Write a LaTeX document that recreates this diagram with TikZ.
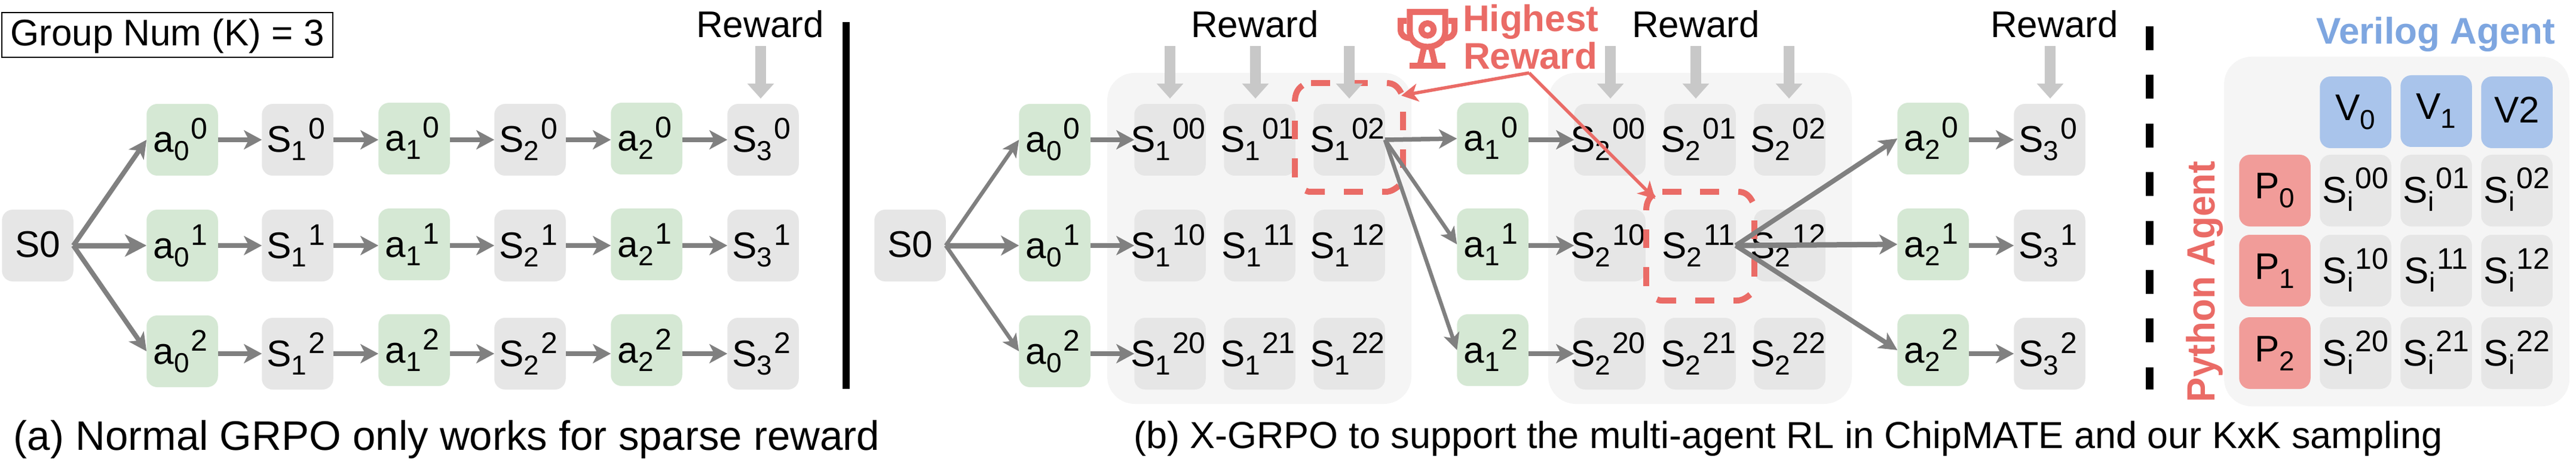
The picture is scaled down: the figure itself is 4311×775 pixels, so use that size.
\documentclass[tikz,border=0pt]{standalone}
\usepackage{fontspec}
\setmainfont{Liberation Sans}
\usetikzlibrary{arrows.meta,calc}
\definecolor{cgray}{HTML}{E6E6E6}
\definecolor{cgreen}{HTML}{D5E8D4}
\definecolor{cblue}{HTML}{A9C4EB}
\definecolor{cred}{HTML}{F19C99}
\definecolor{cpanel}{HTML}{F5F5F5}
\definecolor{chl}{HTML}{EA6B66}
\definecolor{cver}{HTML}{7EA6E0}
\definecolor{carrow}{HTML}{808080}
\definecolor{creward}{HTML}{C8C8C8}
\newcommand{\fsz}[1]{\fontsize{#1}{#1}\selectfont}
% base, sub, sup; shifted slightly left like the original
\newcommand{\lab}[3]{\makebox[0pt][c]{\raisebox{-21pt}[0pt][0pt]{\fsz{62}#1\raisebox{-14pt}{\fsz{46}#2}\hspace{3pt}\raisebox{22pt}{\fsz{50}#3}}\kern6pt}}
\newcommand{\labi}[3]{\makebox[0pt][c]{\raisebox{-21pt}[0pt][0pt]{\fsz{62}#1\raisebox{-14pt}{\fsz{46}#2}\hspace{3pt}\raisebox{24pt}{\fsz{50}#3}}}}
\newcommand{\labs}[2]{\makebox[0pt][c]{\raisebox{-14pt}[0pt][0pt]{\fsz{62}#1\raisebox{-15pt}{\fsz{46}#2}}}}
\newcommand{\plain}[2]{\makebox[0pt][c]{\raisebox{-#1pt}[0pt][0pt]{\fsz{62}#2}}}
% dashed highlight frame, every dash placed as in the original
\newcommand{\hlframe}[2]{%
  \begin{scope}[shift={(#1,#2)},hldash]
    \draw (0,31) .. controls (0,18) and (5,9) .. (13,4);
    \draw (27,0) -- (59,0);
    \draw (90,0) -- (122,0);
    \draw (154,0) .. controls (166,0) and (173,7) .. (178,17);
    \draw (180.5,48) -- (180.5,79);
    \draw (180.5,111) -- (180.5,142);
    \draw (146,182) -- (152,182) .. controls (160,182) and (167,178) .. (174,172);
    \draw (82,182) -- (114,182);
    \draw (18,180) .. controls (20,181) and (22,182) .. (26,182) -- (50,182);
    \draw (0,126) -- (0,158);
    \draw (0,63) -- (0,94);
  \end{scope}}
\tikzset{
  nd/.style={rounded corners=18pt,minimum width=119.5pt,minimum height=120pt,inner sep=0pt,outer sep=0pt},
  gn/.style={nd,fill=cgray},
  ga/.style={nd,fill=cgreen},
  bl/.style={nd,fill=cblue},
  rd/.style={nd,fill=cred},
  panel/.style={fill=cpanel,rounded corners=46pt,inner sep=0pt},
  arrm/.style={draw=carrow,line width=9pt,-{Stealth[length=36pt,width=37pt,inset=10pt]}},
  arrb/.style={draw=carrow,line width=9pt,-{Stealth[length=30pt,width=33pt,inset=8pt]}},
  arrr/.style={draw=carrow,line width=7.5pt,-{Stealth[length=30pt,width=32pt,inset=8pt]}},
  arrsa/.style={draw=carrow,line width=8pt,-{Stealth[length=30pt,width=30pt,inset=8pt]}},
  arrs/.style={draw=carrow,line width=6.5pt,-{Stealth[length=28pt,width=27pt,inset=7pt]}},
  rw/.style={draw=creward,line width=18pt,shorten >=9pt,-{Triangle[length=25pt,width=43pt]}},
  hldash/.style={every path/.append style={draw=chl,line width=10pt}},
  hlarr/.style={draw=chl,line width=5.5pt,-{Stealth[length=28pt,width=30pt,inset=8pt]}},
  txt/.style={inner sep=0pt,outer sep=0pt,font=\fsz{62}},
  troph/.style={draw=chl,line width=10pt,line join=miter}
}
\begin{document}
\begin{tikzpicture}[x=1pt,y=-1pt]
\useasboundingbox (0,0) rectangle (4311,775);
\fill[white] (0,0) rectangle (4311,775);

% ---------- panel (a)
\node[draw=black,line width=1.6pt,minimum width=554pt,minimum height=75pt,inner sep=0pt] (gbox) at (280,58.5) {\plain{18}{Group Num (K) = 3}};
\node[txt,anchor=base] (rewA) at (1272,63) {Reward};
\coordinate (rwa) at (1273,77);

\node[gn] (aS) at (63,411) {\plain{19}{S0}};
\foreach \r/\sy/\gy/\hy/\t in {0/234/234/232/0,1/411/411/409/1,2/592/588/586/2}{
  \node[ga] (aa0\r) at (305,\gy) {\lab{a}{0}{\t}};
  \node[gn] (as1\r) at (498,\sy) {\lab{S}{1}{\t}};
  \node[ga] (aa1\r) at (693,\hy) {\lab{a}{1}{\t}};
  \node[gn] (as2\r) at (887,\sy) {\lab{S}{2}{\t}};
  \node[ga] (aa2\r) at (1082,\hy) {\lab{a}{2}{\t}};
  \node[gn] (as3\r) at (1277,\sy) {\lab{S}{3}{\t}};
  \draw[arrr] (aa0\r.east |- as1\r.west) -- (as1\r.west);
  \draw[arrr] (as1\r.east) -- (as1\r.east -| aa1\r.west);
  \draw[arrr] (aa1\r.east |- as2\r.west) -- (as2\r.west);
  \draw[arrr] (as2\r.east) -- (as2\r.east -| aa2\r.west);
  \draw[arrr] (aa2\r.east |- as3\r.west) -- (as3\r.west);
}
\draw[arrsa] (aS.east) -- (aa00.west);
\draw[arrm] (aS.east) -- (aa01.west);
\draw[arrsa] (aS.east) -- (aa02.west);
\draw[rw] (rwa) -- (rwa |- as30.north);
\draw[line width=12pt,black] (1416,37) -- (1416,651);
\node[inner sep=0pt,outer sep=0pt,font=\fsz{69},anchor=base west] (capa) at (23,753) {(a) Normal GRPO only works for sparse reward};

% ---------- panel (b)
\node[panel,minimum width=509pt,minimum height=554pt] (pan1) at (2107.5,399) {};
\node[panel,minimum width=508pt,minimum height=554pt] (pan2) at (2845,399) {};

\node[gn] (bS) at (1523,411) {\plain{19}{S0}};
\foreach \r/\sy/\gy/\hy/\t in {0/234/234/232/0,1/411/411/409/1,2/592/588/586/2}{
  \node[ga] (ba0\r) at (1765,\gy) {\lab{a}{0}{\t}};
  \node[ga] (ba1\r) at (2498,\hy) {\lab{a}{1}{\t}};
  \node[ga] (ba2\r) at (3235,\hy) {\lab{a}{2}{\t}};
  \node[gn] (bs3\r) at (3430,\sy) {\lab{S}{3}{\t}};
  \foreach \c/\cx/\dx in {0/1958/2694,1/2108/2845,2/2258/2995}{
    \node[gn] (bs1\r\c) at (\cx,\sy) {\lab{S}{1}{\t\c}};
    \node[gn] (bs2\r\c) at (\dx,\sy) {\lab{S}{2}{\t\c}};
  }
}
\hlframe{2167}{139}
\hlframe{2755}{321}

\foreach \r in {0,1,2}{
  \draw[arrr] (ba0\r.east |- bs1\r0.west) -- (bs1\r0.west);
  \draw[arrr] (ba1\r.east |- bs2\r0.west) -- (bs2\r0.west);
  \draw[arrr] (ba2\r.east |- bs3\r.west) -- (bs3\r.west);
}
\draw[arrs] (bS.east) -- (ba00.west);
\draw[arrb] (bS.east) -- (ba01.west);
\draw[arrs] (bS.east) -- (ba02.west);
\draw[arrr] (bs102.east) -- (ba10.west);
\draw[arrs] (bs102.east) -- (ba11.west);
\draw[arrs] (bs102.east) -- (ba12.west);
\draw[arrsa] (bs211.east) -- (ba20.west);
\draw[arrb] (bs211.east) -- (ba21.west);
\draw[arrsa] (bs211.east) -- (ba22.west);

\node[txt,anchor=base] (rewB) at (2100,63) {Reward};
\node[txt,anchor=base] (rewC) at (2838,63) {Reward};
\node[txt,anchor=base] (rewD) at (3438,63) {Reward};
\foreach \n/\x/\t in {b1/1958/bs100,b2/2101/bs101,b3/2258/bs102,c1/2695/bs200,c2/2838/bs201,c3/2994/bs202,d1/3431/bs30}{
  \coordinate (rw\n) at (\x,77);
  \draw[rw] (rw\n) -- (rw\n |- \t.north);
}

% trophy
\begin{scope}[shift={(2320,0)},x=0.3333pt,y=-0.3333pt]
  \draw[troph] (118,60) -- (296,60) -- (296,160) .. controls (296,205) and (255,235) .. (207,235) .. controls (159,235) and (118,205) .. (118,160) -- cycle;
  \draw[troph] (102,105) -- (72,105) -- (72,150) .. controls (72,175) and (90,190) .. (120,192);
  \draw[troph] (312,105) -- (342,105) -- (342,150) .. controls (342,175) and (324,190) .. (294,192);
  \draw[troph] (190,235) -- (168,330);
  \draw[troph] (224,235) -- (246,330);
  \draw[troph] (117,330) -- (297,330);
  \draw[troph] (207,148) circle (31);
\end{scope}
\node[txt,anchor=base west,text=chl,font=\fsz{62}\bfseries] (hi1) at (2448,53) {Highest};
\node[txt,anchor=base west,text=chl,font=\fsz{62}\bfseries] (hi2) at (2449,116) {Reward};
\coordinate (hs) at (2559,122);
\coordinate (ht1) at (2345,160);
\coordinate (ht2) at (2770,333);
\draw[hlarr] (hs) -- (ht1);
\draw[hlarr] (hs) -- (ht2);

\draw[line width=13pt,black,dash pattern=on 40pt off 41.5pt] (3597,44) -- (3597,652);
\node[inner sep=0pt,outer sep=0pt,font=\fsz{63},anchor=base west] (capb) at (1897,750) {(b) X-GRPO to support the multi-agent RL in ChipMATE and our KxK sampling};

% ---------- right panel
\node[panel,minimum width=578pt,minimum height=585pt] (pan3) at (4011,387.5) {};
\node[txt,anchor=base east,text=cver,font=\fsz{62}\bfseries] (verl) at (4276,74) {Verilog Agent};
\node[txt,anchor=base west,rotate=90,text=chl,font=\fsz{66}\bfseries] (pyl) at (3706,673) {\scalebox{0.94}[1]{Python Agent}};
\node[bl] (V0) at (3942,188) {\labs{V}{0}};
\node[bl] (V1) at (4077,186) {\labs{V}{1}};
\node[bl] (V2) at (4212,188) {\plain{18}{V2}};
\foreach \r/\y in {0/319,1/453,2/591}{
  \node[rd] (P\r) at (3807,\y) {\labs{P}{\r}};
  \node[gn] (si\r0) at (3942,\y) {\labi{S}{i}{\r0}};
  \node[gn] (si\r1) at (4077,\y) {\labi{S}{i}{\r1}};
  \node[gn] (si\r2) at (4212,\y) {\labi{S}{i}{\r2}};
}
\end{tikzpicture}
\end{document}
